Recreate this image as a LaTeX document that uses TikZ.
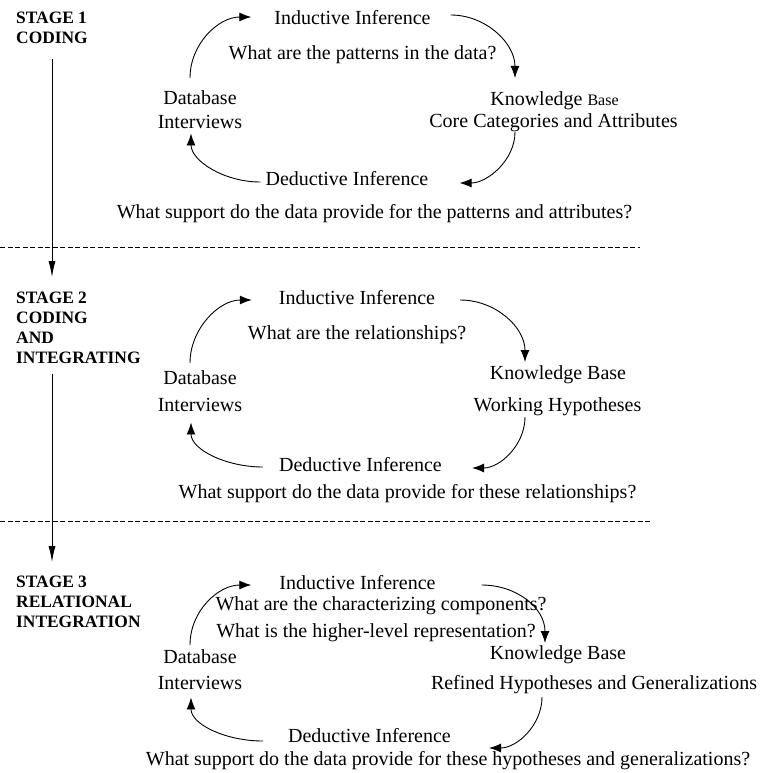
\documentclass[tikz,border=0pt]{standalone}
\usepackage{fontspec}
\setmainfont{Liberation Serif}
\usetikzlibrary{arrows.meta}

\tikzset{
  lbl/.style={inner sep=0pt, anchor=base, font=\fontsize{20}{24}\selectfont},
  dbl/.style={inner sep=0pt, anchor=north, align=center, font=\fontsize{20}{24}\selectfont},
  stagelbl/.style={inner sep=0pt, anchor=north west, align=left, font=\fontsize{17.4}{20}\selectfont\bfseries},
  cycarrow/.style={line width=0.9pt, -{Latex[length=12pt,width=9pt]}},
  stagearrow/.style={line width=0.9pt, -{Latex[length=16pt,width=7pt]}},
  sep/.style={line width=0.8pt, dash pattern=on 5pt off 2.5pt}
}

\begin{document}
\begin{tikzpicture}[x=1pt,y=-1pt]
  \useasboundingbox (0,0) rectangle (763,773);
  % Etape 1
  \node[stagelbl] (s1) at (16,12) {STAGE 1\\CODING};
  \node[lbl] (ind1) at (352.5,25) {Inductive Inference};
  \node[lbl] (q1) at (362.5,60) {What are the patterns in the data?};
  \node[dbl] (db1) at (200,90) {Database\\Interviews};
  \node[lbl] (kb1) at (554.5,106) {Knowledge {\fontsize{16}{19}\selectfont Base}};
  \node[lbl] (kbt1) at (553.5,128) {Core Categories and Attributes};
  \node[lbl] (ded1) at (347,185) {Deductive Inference};
  \node[lbl] (sq1) at (374.5,218) {What support do the data provide for the patterns and attributes?};
  \draw[cycarrow] ([shift={(-10,-12)}]db1.north) .. controls +(0,-34) and +(-33,0) .. ([shift={(-23,-8)}]ind1.base west);
  \draw[cycarrow] ([shift={(20,-10)}]ind1.base east) .. controls +(35,0) and +(0,-35) .. ([shift={(-39.5,-28)}]kb1.base);
  \draw[cycarrow] ([shift={(-38.5,4)}]kbt1.base) .. controls +(0,28) and +(28,0) .. ([shift={(31,-2)}]ded1.base east);
  \draw[cycarrow] ([shift={(-5,-3)}]ded1.base west) .. controls +(-37,0) and +(0,27) .. ([shift={(-9,5)}]db1.south);
  \draw[sep] (0,247) -- (640,247);
  % Etape 2
  \node[stagelbl] (s2) at (16,292) {STAGE 2\\CODING\\AND\\INTEGRATING};
  \node[lbl] (ind2) at (357,304) {Inductive Inference};
  \node[lbl] (q2) at (357,339) {What are the relationships?};
  \node[dbl] (db2) at (200,370) {Database\\[3pt]Interviews};
  \node[lbl] (kb2) at (558,379) {Knowledge Base};
  \node[lbl] (kbt2) at (557.5,411) {Working Hypotheses};
  \node[lbl] (ded2) at (360.5,471) {Deductive Inference};
  \node[lbl] (sq2) at (407.5,498) {What support do the data provide for these relationships?};
  \draw[cycarrow] ([shift={(-10,-7)}]db2.north) .. controls +(0,-34) and +(-33,0) .. ([shift={(-27,-4)}]ind2.base west);
  \draw[cycarrow] ([shift={(25,-4)}]ind2.base east) .. controls +(35,0) and +(0,-35) .. ([shift={(-33,-17)}]kb2.base);
  \draw[cycarrow] ([shift={(-32.5,6)}]kbt2.base) .. controls +(0,28) and +(28,0) .. ([shift={(30,-3)}]ded2.base east);
  \draw[cycarrow] ([shift={(-16,-4)}]ded2.base west) .. controls +(-37,0) and +(0,27) .. ([shift={(-9,11)}]db2.south);
  \draw[sep] (0,521) -- (652,521);
  % Etape 3
  \node[stagelbl] (s3) at (16,576) {STAGE 3\\RELATIONAL\\INTEGRATION};
  \node[lbl] (ind3) at (357.5,589) {Inductive Inference};
  \node[lbl] (q3a) at (381,610) {What are the characterizing components?};
  \node[lbl] (q3b) at (376,637) {What is the higher-level representation?};
  \node[dbl] (db3) at (200,649) {Database\\[2pt]Interviews};
  \node[lbl] (kb3) at (558,659) {Knowledge Base};
  \node[lbl] (kbt3) at (594,689) {Refined Hypotheses and Generalizations};
  \node[lbl] (ded3) at (369.5,742) {Deductive Inference};
  \node[lbl] (sq3) at (448,765) {What support do the data provide for these hypotheses and generalizations?};
  \draw[cycarrow] ([shift={(-10,-4)}]db3.north) .. controls +(0,-34) and +(-33,0) .. ([shift={(-28,-4)}]ind3.base west);
  \draw[cycarrow] ([shift={(46,-4)}]ind3.base east) .. controls +(35,0) and +(0,-35) .. ([shift={(-13,-16)}]kb3.base);
  \draw[cycarrow] ([shift={(-52,8)}]kbt3.base) .. controls +(0,28) and +(28,0) .. ([shift={(38,6)}]ded3.base east);
  \draw[cycarrow] ([shift={(-25,-1)}]ded3.base west) .. controls +(-37,0) and +(0,27) .. ([shift={(-9,8)}]db3.south);
  % Fleches entre les etapes
  \draw[stagearrow] ([shift={(36,15)}]s1.south west) -- ([shift={(36,-15)}]s2.north west);
  \draw[stagearrow] ([shift={(36,10)}]s2.south west) -- ([shift={(36,-14)}]s3.north west);
\end{tikzpicture}
\end{document}
